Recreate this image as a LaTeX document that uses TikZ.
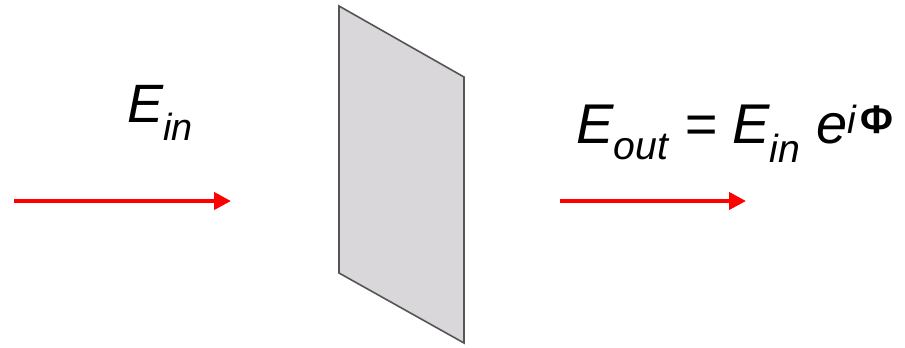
\documentclass[tikz,border=0pt]{standalone}
\usepackage{fontspec}
\setmainfont{Liberation Sans}
\usetikzlibrary{positioning,arrows.meta}
\definecolor{platefill}{RGB}{217,215,218}
\definecolor{plateedge}{RGB}{85,85,85}

\begin{document}
\begin{tikzpicture}[
  x=1pt, y=-1pt,
  beam/.style={draw=red, line width=4pt, -{Triangle[length=17pt, width=17pt]}},
  plate/.style={draw=plateedge, line width=1.6pt, fill=platefill, line join=miter},
  lbl/.style={font=\fontsize{54}{60}\selectfont\itshape, inner sep=0pt, anchor=base},
]
\useasboundingbox (0,0) rectangle (905,348);

% phase plate
\draw[plate] (339,6) -- (464,77) -- (464,343) -- (339,273) -- cycle;

% beams
\coordinate (inL)  at (14,201);
\coordinate (inR)  at (231,201);
\coordinate (outL) at (560,201);
\coordinate (outR) at (746,201);
\draw[beam] (inL) -- (inR);
\draw[beam] (outL) -- (outR);

% labels
\node[lbl] (ein) at (160,122) {E\textsubscript{in}};
\node[lbl, font=\fontsize{56}{62}\selectfont\itshape, anchor=base west] (eout) at (576,143)
  {E\textsubscript{out} = E\textsubscript{in} e\textsuperscript{i\kern4pt{\upshape\bfseries\fontsize{40}{44}\selectfont Φ}}};

\end{tikzpicture}
\end{document}
